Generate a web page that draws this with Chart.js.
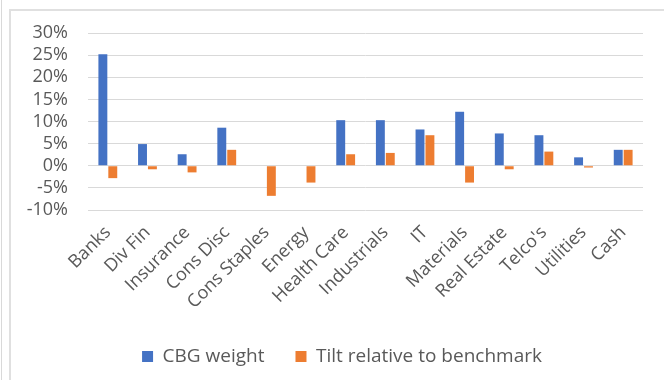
<!DOCTYPE html>
<html>
<head>
<meta charset="utf-8">
<script src="https://cdn.jsdelivr.net/npm/chart.js@4/dist/chart.umd.min.js"></script>
<style>
  html, body { margin: 0; padding: 0; background: #ffffff; }
  #wrap { position: relative; width: 664px; height: 380px; overflow: hidden; }
  .rule-v { position: absolute; left: 1px; top: 0; width: 1px; height: 380px; background: #d9d9d9; }
  .frame { position: absolute; left: 9px; top: 9px; width: 700px; height: 400px;
           border-left: 2px solid #e0e0e0; border-top: 2px solid #e0e0e0; box-sizing: border-box; }
  canvas { position: absolute; left: 0; top: 0; }
</style>
</head>
<body>
<div id="wrap">
  <div class="rule-v"></div>
  <div class="frame"></div>
  <canvas id="chart" width="664" height="380"></canvas>
</div>
<script>
// Sector categories
const sectors = ['Banks', 'Div Fin', 'Insurance', 'Cons Disc', 'Cons Staples', 'Energy',
  'Health Care', 'Industrials', 'IT', 'Materials', 'Real Estate', "Telco's", 'Utilities', 'Cash'];

// Portfolio weight per sector (%)
const cbgWeight = [25.2, 4.9, 2.6, 8.6, 0, 0, 10.3, 10.3, 8.2, 12.2, 7.3, 6.9, 1.9, 3.6];

// Over/underweight versus the benchmark (%)
const tiltVsBenchmark = [-2.8, -0.8, -1.5, 3.6, -6.8, -3.8, 2.6, 2.9, 6.9, -3.8, -0.8, 3.2, -0.4, 3.6];

// Value axis ticks (%)
const yMin = -10;
const yMax = 30;
const yStep = 5;

const textColor = '#595959';
const gridColor = '#d9d9d9';
const fontFamily = "'Open Sans', 'Noto Sans', sans-serif";

// Legend band: centred a little right of the canvas middle
const legendBand = {
  id: 'legendBand',
  afterLayout(chart) {
    const lg = chart.legend;
    if (lg) {
      lg.left = 41;
      lg.right = chart.chartArea.right;
      lg.width = lg.right - lg.left;
    }
  }
};

new Chart(document.getElementById('chart'), {
  type: 'bar',
  data: {
    labels: sectors,
    datasets: [
      {
        label: 'CBG weight',
        data: cbgWeight,
        backgroundColor: '#4472C4',
        categoryPercentage: 0.5,
        barPercentage: 0.9
      },
      {
        label: 'Tilt relative to benchmark',
        data: tiltVsBenchmark,
        backgroundColor: '#ED7D31',
        categoryPercentage: 0.5,
        barPercentage: 0.9
      }
    ]
  },
  plugins: [legendBand],
  options: {
    responsive: false,
    animation: false,
    layout: { padding: { left: 0, right: 21, top: 33, bottom: 4 } },
    plugins: {
      tooltip: { enabled: false },
      legend: {
        position: 'bottom',
        labels: {
          boxWidth: 11,
          boxHeight: 11,
          padding: 31,
          color: textColor,
          font: { family: fontFamily, size: 19 }
        }
      }
    },
    scales: {
      x: {
        grid: { display: false },
        border: { display: false },
        ticks: {
          autoSkip: false,
          minRotation: 45,
          maxRotation: 45,
          padding: 4,
          color: textColor,
          font: { family: fontFamily, size: 18 }
        },
        afterFit(scale) { scale.height = 106; }
      },
      y: {
        min: yMin,
        max: yMax,
        border: { display: false },
        grid: { color: gridColor, lineWidth: 1, drawTicks: false },
        ticks: {
          stepSize: yStep,
          autoSkip: false,
          padding: 20,
          color: textColor,
          font: { family: fontFamily, size: 18 },
          callback: (v) => v + '%'
        },
        afterFit(scale) { scale.width = 88; }
      }
    }
  }
});
</script>
</body>
</html>
